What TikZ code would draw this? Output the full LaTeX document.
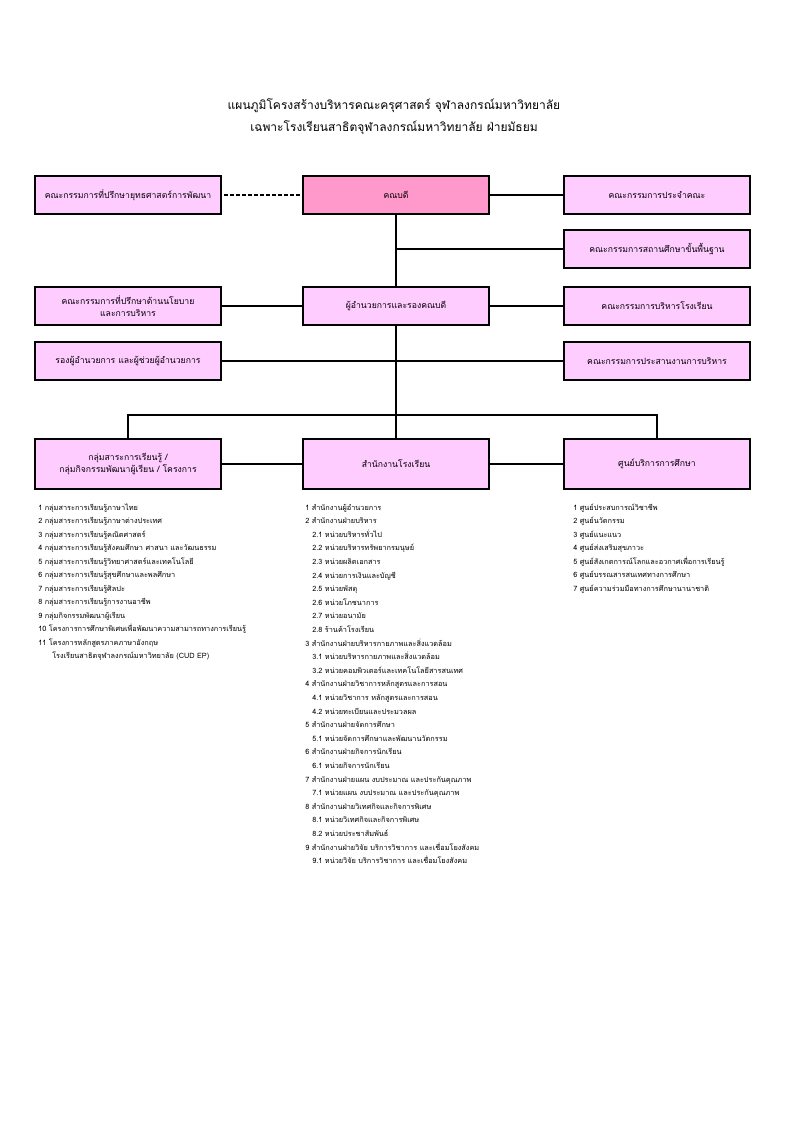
\documentclass[tikz,border=0pt]{standalone}
\usepackage{fontspec}
\newfontfamily\thai[Script=Thai]{Loma}
\definecolor{boxpink}{HTML}{FFCCFF}
\definecolor{deanpink}{HTML}{FF99CC}
\begin{document}
\begin{tikzpicture}[x=0.75pt,y=-0.75pt,
  box/.style={draw,line width=1.5pt,fill=boxpink,minimum width=139pt,minimum height=28.5pt,inner sep=1pt,align=center,font=\thai\fontsize{6.5}{9}\selectfont},
  lowbox/.style={box,minimum height=37.5pt},
  thinln/.style={line width=0.9pt},
  thickln/.style={line width=1.5pt},
  listtxt/.style={anchor=base west,inner sep=0pt,font=\thai\fontsize{5.5}{8}\selectfont}]
\useasboundingbox (0,0) rectangle (794,1123);
\node[font=\thai\fontsize{9}{16.5}\selectfont,align=center] (title) at (394,117) {แผนภูมิโครงสร้างบริหารคณะครุศาสตร์ จุฬาลงกรณ์มหาวิทยาลัย\\เฉพาะโรงเรียนสาธิตจุฬาลงกรณ์มหาวิทยาลัย ฝ่ายมัธยม};
% connectors (behind boxes)
\coordinate (hub) at (396,415);
\draw[thickln,dashed,dash pattern=on 3pt off 1.5pt] (128,195) -- (396,195);
\draw[thinln] (396,195) -- (657,195);
\draw[thickln] (396,195) -- (hub);
\draw[thinln] (396,249) -- (657,249);
\draw[thinln] (128,306) -- (657,306);
\draw[thickln] (128,361) -- (657,361);
\draw[thickln] (128,464) |- (hub) -| (657,464);
\draw[thickln] (hub) -- (396,464);
\draw[thickln] (128,464) -- (657,464);
% boxes
\node[box] (adv) at (128,195) {คณะกรรมการที่ปรึกษายุทธศาสตร์การพัฒนา};
\node[box,fill=deanpink] (dean) at (396,195) {คณบดี};
\node[box] (rc1) at (657,195) {คณะกรรมการประจำคณะ};
\node[box] (rc2) at (657,249) {คณะกรรมการสถานศึกษาขั้นพื้นฐาน};
\node[box] (pol) at (128,306) {คณะกรรมการที่ปรึกษาด้านนโยบาย\\และการบริหาร};
\node[box] (dir) at (396,306) {ผู้อำนวยการและรองคณบดี};
\node[box] (rc3) at (657,306) {คณะกรรมการบริหารโรงเรียน};
\node[box] (dep) at (128,361) {รองผู้อำนวยการ และผู้ช่วยผู้อำนวยการ};
\node[box] (rc4) at (657,361) {คณะกรรมการประสานงานการบริหาร};
\node[lowbox] (grp) at (128,464) {กลุ่มสาระการเรียนรู้ /\\กลุ่มกิจกรรมพัฒนาผู้เรียน / โครงการ};
\node[lowbox] (off) at (396,464) {สำนักงานโรงเรียน};
\node[lowbox] (ctr) at (657,464) {ศูนย์บริการการศึกษา};
% left list
\foreach \t [count=\i] in {
 {1 กลุ่มสาระการเรียนรู้ภาษาไทย},
 {2 กลุ่มสาระการเรียนรู้ภาษาต่างประเทศ},
 {3 กลุ่มสาระการเรียนรู้คณิตศาสตร์},
 {4 กลุ่มสาระการเรียนรู้สังคมศึกษา ศาสนา และวัฒนธรรม},
 {5 กลุ่มสาระการเรียนรู้วิทยาศาสตร์และเทคโนโลยี},
 {6 กลุ่มสาระการเรียนรู้สุขศึกษาและพลศึกษา},
 {7 กลุ่มสาระการเรียนรู้ศิลปะ},
 {8 กลุ่มสาระการเรียนรู้การงานอาชีพ},
 {9 กลุ่มกิจกรรมพัฒนาผู้เรียน},
 {10 โครงการการศึกษาพิเศษเพื่อพัฒนาความสามารถทางการเรียนรู้},
 {11 โครงการหลักสูตรภาคภาษาอังกฤษ}}
 \node[listtxt] (L\i) at (38,{510+13.5*(\i-1)}) {\t};
\node[listtxt] (L12) at (52,{510+13.5*11}) {โรงเรียนสาธิตจุฬาลงกรณ์มหาวิทยาลัย (CUD EP)};
% middle list
\foreach \t/\x [count=\i] in {
 {1 สำนักงานผู้อำนวยการ}/305,
 {2 สำนักงานฝ่ายบริหาร}/305,
 {2.1 หน่วยบริหารทั่วไป}/312,
 {2.2 หน่วยบริหารทรัพยากรมนุษย์}/312,
 {2.3 หน่วยผลิตเอกสาร}/312,
 {2.4 หน่วยการเงินและบัญชี}/312,
 {2.5 หน่วยพัสดุ}/312,
 {2.6 หน่วยโภชนาการ}/312,
 {2.7 หน่วยอนามัย}/312,
 {2.8 ร้านค้าโรงเรียน}/312,
 {3 สำนักงานฝ่ายบริหารกายภาพและสิ่งแวดล้อม}/305,
 {3.1 หน่วยบริหารกายภาพและสิ่งแวดล้อม}/312,
 {3.2 หน่วยคอมพิวเตอร์และเทคโนโลยีสารสนเทศ}/312,
 {4 สำนักงานฝ่ายวิชาการหลักสูตรและการสอน}/305,
 {4.1 หน่วยวิชาการ หลักสูตรและการสอน}/312,
 {4.2 หน่วยทะเบียนและประมวลผล}/312,
 {5 สำนักงานฝ่ายจัดการศึกษา}/305,
 {5.1 หน่วยจัดการศึกษาและพัฒนานวัตกรรม}/312,
 {6 สำนักงานฝ่ายกิจการนักเรียน}/305,
 {6.1 หน่วยกิจการนักเรียน}/312,
 {7 สำนักงานฝ่ายแผน งบประมาณ และประกันคุณภาพ}/305,
 {7.1 หน่วยแผน งบประมาณ และประกันคุณภาพ}/312,
 {8 สำนักงานฝ่ายวิเทศกิจและกิจการพิเศษ}/305,
 {8.1 หน่วยวิเทศกิจและกิจการพิเศษ}/312,
 {8.2 หน่วยประชาสัมพันธ์}/312,
 {9 สำนักงานฝ่ายวิจัย บริการวิชาการ และเชื่อมโยงสังคม}/305,
 {9.1 หน่วยวิจัย บริการวิชาการ และเชื่อมโยงสังคม}/312}
 \node[listtxt] (M\i) at (\x,{510+13.6*(\i-1)}) {\t};
% right list
\foreach \t [count=\i] in {
 {1 ศูนย์ประสบการณ์วิชาชีพ},
 {2 ศูนย์นวัตกรรม},
 {3 ศูนย์แนะแนว},
 {4 ศูนย์ส่งเสริมสุขภาวะ},
 {5 ศูนย์สังเกตการณ์โลกและอวกาศเพื่อการเรียนรู้},
 {6 ศูนย์บรรณสารสนเทศทางการศึกษา},
 {7 ศูนย์ความร่วมมือทางการศึกษานานาชาติ}}
 \node[listtxt] (R\i) at (573,{510+13.5*(\i-1)}) {\t};
\end{tikzpicture}
\end{document}
